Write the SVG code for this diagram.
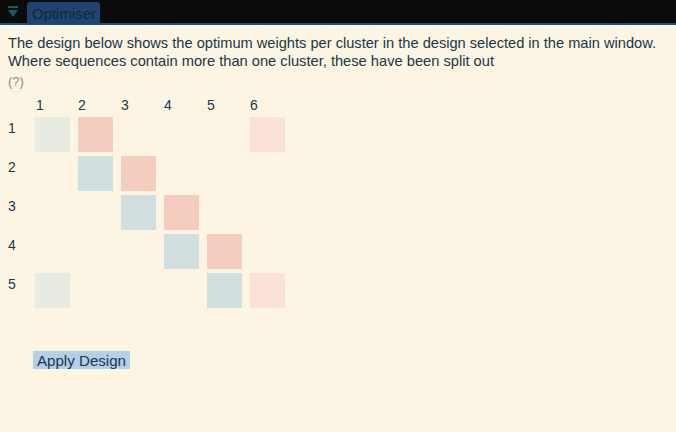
<svg xmlns="http://www.w3.org/2000/svg" width="676" height="432" viewBox="0 0 676 432">
<style>
text{font-family:"Liberation Sans",Arial,sans-serif;fill:#173848}
.lbl{font-size:14px}
.body{font-size:14.5px}
.g{fill:#E8EBE2}.r{fill:#F5CDBF}.p{fill:#FAE3D6}.b{fill:#D1DFDE}
</style>
<rect width="676" height="432" fill="#FDF5E3"/>
<g id="header">
<rect x="0" y="0" width="676" height="24" fill="#0B0B0B"/>
<rect x="0" y="23" width="676" height="2" fill="#1F4E7E"/>
<rect x="8" y="6" width="10" height="2" fill="#1A5A68"/>
<polygon points="8,10 18,10 13,17" fill="#1A5A68"/>
<path d="M27,24 V5 Q27,2 30,2 H97 Q100,2 100,5 V24 Z" fill="#1F4470"/>
<text x="32" y="19" style="font-size:14px;fill:#0B2A44" textLength="64" lengthAdjust="spacingAndGlyphs">Optimiser</text>
</g>
<g id="description">
<text class="body" x="8" y="48" textLength="648" lengthAdjust="spacingAndGlyphs">The design below shows the optimum weights per cluster in the design selected in the main window.</text>
<text class="body" x="8" y="66" textLength="486" lengthAdjust="spacingAndGlyphs">Where sequences contain more than one cluster, these have been split out</text>
<text x="8" y="86" style="font-size:13px;fill:#8A8A8A">(?)</text>
</g>
<g id="col-labels" class="lbl">
<text x="36" y="110">1</text><text x="78" y="110">2</text><text x="121" y="110">3</text><text x="164" y="110">4</text><text x="207" y="110">5</text><text x="250" y="110">6</text>
</g>
<g id="row-labels" class="lbl">
<text x="8" y="133">1</text><text x="8" y="172">2</text><text x="8" y="211">3</text><text x="8" y="250">4</text><text x="8" y="289">5</text>
</g>
<g id="cells">
<rect class="g" x="35" y="117" width="35" height="35"/>
<rect class="r" x="78" y="117" width="35" height="35"/>
<rect class="p" x="250" y="117" width="35" height="35"/>
<rect class="b" x="78" y="156" width="35" height="35"/>
<rect class="r" x="121" y="156" width="35" height="35"/>
<rect class="b" x="121" y="195" width="35" height="35"/>
<rect class="r" x="164" y="195" width="35" height="35"/>
<rect class="b" x="164" y="234" width="35" height="35"/>
<rect class="r" x="207" y="234" width="35" height="35"/>
<rect class="g" x="35" y="273" width="35" height="35"/>
<rect class="b" x="207" y="273" width="35" height="35"/>
<rect class="p" x="250" y="273" width="35" height="35"/>
</g>
<g id="apply-button">
<rect x="33" y="351" width="97" height="18" fill="#B3CFEA"/>
<text x="37" y="366" style="font-size:14px" textLength="89" lengthAdjust="spacingAndGlyphs">Apply Design</text>
</g>
</svg>
